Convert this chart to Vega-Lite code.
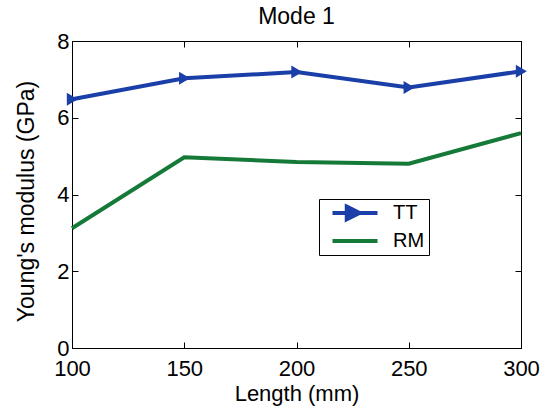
{
  "$schema": "https://vega.github.io/schema/vega-lite/v6.json",
  "width": 449,
  "height": 307,
  "autosize": "none",
  "padding": {"left": 72, "top": 41, "right": 30, "bottom": 60},
  "background": "white",
  "config": {
    "font": "Liberation Sans",
    "view": {"stroke": "black", "strokeWidth": 1},
    "axis": {
      "grid": false,
      "domainColor": "black",
      "domainWidth": 1,
      "tickColor": "black",
      "tickSize": -6,
      "labelColor": "black",
      "titleColor": "black",
      "labelFontSize": 22,
      "labelFlush": false,
      "titleFontSize": 23,
      "titleFontWeight": "normal"
    }
  },
  "title": {"text": "Mode 1", "fontSize": 23, "fontWeight": "normal", "color": "black", "offset": 1},
  "data": {
    "values": [
      {"length": 100, "modulus": 6.48, "series": "TT"},
      {"length": 150, "modulus": 7.03, "series": "TT"},
      {"length": 200, "modulus": 7.19, "series": "TT"},
      {"length": 250, "modulus": 6.79, "series": "TT"},
      {"length": 300, "modulus": 7.21, "series": "TT"},
      {"length": 100, "modulus": 3.12, "series": "RM"},
      {"length": 150, "modulus": 4.97, "series": "RM"},
      {"length": 200, "modulus": 4.85, "series": "RM"},
      {"length": 250, "modulus": 4.8, "series": "RM"},
      {"length": 300, "modulus": 5.6, "series": "RM"}
    ]
  },
  "layer": [
    {
      "encoding": {
        "x": {
          "field": "length",
          "type": "quantitative",
          "scale": {"domain": [100, 300], "nice": false, "zero": false},
          "axis": {"orient": "bottom", "values": [100, 150, 200, 250, 300], "title": "Length (mm)", "labelPadding": 16, "titlePadding": 4, "titleFontSize": 22}
        },
        "y": {
          "field": "modulus",
          "type": "quantitative",
          "scale": {"domain": [0, 8], "nice": false},
          "axis": {"orient": "left", "values": [0, 2, 4, 6, 8], "title": "Young's modulus (GPa)", "labelPadding": 9, "titlePadding": 18, "titleY": 160}
        },
        "color": {
          "field": "series",
          "type": "nominal",
          "scale": {"domain": ["TT", "RM"], "range": ["#1b3fa8", "#157a38"]},
          "legend": {
            "title": null,
            "orient": "none",
            "legendX": 247,
            "legendY": 158,
            "strokeColor": "black",
            "fillColor": "white",
            "padding": 4,
            "symbolSize": 225,
            "symbolOffset": 22,
            "labelOffset": 28,
            "labelFontSize": 20,
            "labelColor": "black",
            "rowPadding": 3,
            "symbolOpacity": 1,
            "encode": {
              "symbols": {
                "update": {
                  "fill": {"scale": "color", "field": "value"},
                  "stroke": {"scale": "color", "field": "value"},
                  "strokeWidth": {"value": 4},
                  "opacity": {"value": 1}
                }
              }
            }
          }
        }
      },
      "layer": [
        {
          "mark": {"type": "line", "strokeWidth": 4, "clip": false}
        },
        {
          "transform": [{"filter": "datum.series === 'TT'"}],
          "mark": {"type": "point", "filled": true, "opacity": 1, "shape": "M-0.8,-1L0.9,0L-0.8,1Z", "size": 169, "clip": false}
        },
        {
          "mark": {"type": "point", "opacity": 0, "filled": true},
          "encoding": {
            "shape": {
              "field": "series",
              "type": "nominal",
              "scale": {"domain": ["TT", "RM"], "range": ["M-3,0H3M-1.1,-0.85L0.6,0L-1.1,0.85Z", "M-3,0H3"]}
            }
          }
        }
      ]
    },
    {
      "mark": {"type": "point", "opacity": 0},
      "encoding": {
        "x": {
          "field": "length",
          "type": "quantitative",
          "scale": {"domain": [100, 300], "nice": false, "zero": false},
          "axis": {"orient": "top", "values": [100, 150, 200, 250, 300], "labels": false, "title": null}
        },
        "y": {
          "field": "modulus",
          "type": "quantitative",
          "scale": {"domain": [0, 8], "nice": false},
          "axis": {"orient": "right", "values": [0, 2, 4, 6, 8], "labels": false, "title": null}
        }
      }
    }
  ],
  "resolve": {"scale": {"x": "independent", "y": "independent"}}
}
